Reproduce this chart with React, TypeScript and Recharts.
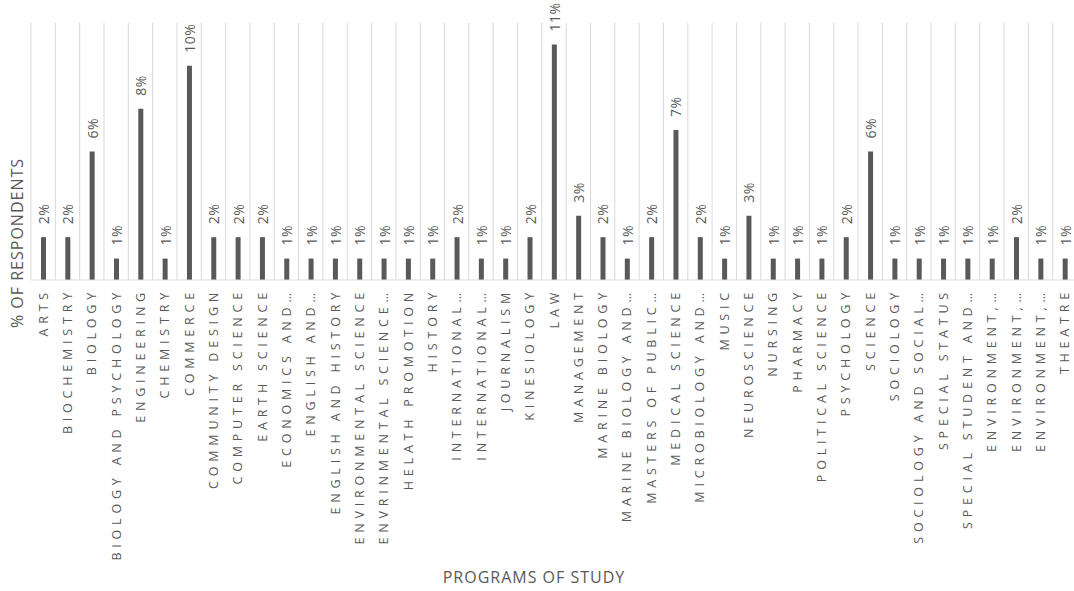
import { Bar, BarChart, CartesianGrid, Label, LabelList, XAxis, YAxis } from "recharts";

// programs of study, in the order they appear on the axis
const programs = [
  "ARTS",
  "BIOCHEMISTRY",
  "BIOLOGY",
  "BIOLOGY AND PSYCHOLOGY",
  "ENGINEERING",
  "CHEMISTRY",
  "COMMERCE",
  "COMMUNITY DESIGN",
  "COMPUTER SCIENCE",
  "EARTH SCIENCE",
  "ECONOMICS AND\u2026",
  "ENGLISH AND\u2026",
  "ENGLISH AND HISTORY",
  "ENVIRONMENTAL SCIENCE",
  "ENVRINMENTAL SCIENCE\u2026",
  "HELATH PROMOTION",
  "HISTORY",
  "INTERNATIONAL\u2026",
  "INTERNATIONAL\u2026",
  "JOURNALISM",
  "KINESIOLOGY",
  "LAW",
  "MANAGEMENT",
  "MARINE BIOLOGY",
  "MARINE BIOLOGY AND\u2026",
  "MASTERS OF PUBLIC\u2026",
  "MEDICAL SCIENCE",
  "MICROBIOLOGY AND\u2026",
  "MUSIC",
  "NEUROSCIENCE",
  "NURSING",
  "PHARMACY",
  "POLITICAL SCIENCE",
  "PSYCHOLOGY",
  "SCIENCE",
  "SOCIOLOGY",
  "SOCIOLOGY AND SOCIAL\u2026",
  "SPECIAL STATUS",
  "SPECIAL STUDENT AND\u2026",
  "ENVIRONMENT,\u2026",
  "ENVIRONMENT,\u2026",
  "ENVIRONMENT,\u2026",
  "THEATRE",
];

// % of respondents per program
const respondents = [
  2, 2, 6, 1, 8, 1, 10, 2, 2, 2, 1, 1, 1, 1, 1, 1, 1, 2, 1, 1, 2, 11, 3, 2, 1, 2, 7, 2, 1, 3, 1, 1, 1, 2,
  6, 1, 1, 1, 1, 1, 2, 1, 1,
];

const yDomain = [0, 12];

const data = programs.map((name, i) => ({ id: i, name, value: respondents[i] }));

const GRAY = "#595959";
const FONT = "'Open Sans', sans-serif";

const ProgramTick = ({ x, y, payload }: any) => {
  const ty = y + 8;
  return (
    <text
      x={x}
      y={ty}
      transform={`rotate(-90 ${x} ${ty})`}
      textAnchor="end"
      dominantBaseline="central"
      fontFamily={FONT}
      fontSize={12.5}
      letterSpacing={4.8}
      fill={GRAY}
    >
      {data[payload.value]?.name}
    </text>
  );
};

const ValueLabel = ({ x, y, width, value }: any) => {
  const cx = x + width / 2;
  const ty = y - 13;
  return (
    <text
      x={cx}
      y={ty}
      transform={`rotate(-90 ${cx} ${ty})`}
      textAnchor="start"
      dominantBaseline="central"
      fontFamily={FONT}
      fontSize={14}
      letterSpacing={0.5}
      fill={GRAY}
    >
      {`${value}%`}
    </text>
  );
};

// vertical grid lines sit on the category boundaries, not the centres
const bandEdges = ({ offset }: any) => {
  const step = offset.width / data.length;
  return data.map((_, i) => offset.left + i * step);
};

export default function App() {
  return (
    <div
      style={{
        position: "absolute",
        left: 0,
        top: 0,
        width: 1074,
        height: 591,
        overflow: "hidden",
        background: "#fff",
      }}
    >
      <BarChart
        width={1100}
        height={591}
        data={data}
        margin={{ top: 23, right: 23, left: 31, bottom: 0 }}
      >
        <CartesianGrid
          horizontal={false}
          stroke="#d9d9d9"
          verticalCoordinatesGenerator={bandEdges}
        />
        <XAxis
          dataKey="id"
          type="category"
          interval={0}
          height={311}
          tickLine={false}
          tickSize={0}
          tickMargin={0}
          axisLine={{ stroke: "#d9d9d9" }}
          tick={<ProgramTick />}
        >
          <Label
            value="PROGRAMS OF STUDY"
            position="insideBottom"
            offset={8}
            dx={-20}
            style={{ fontFamily: FONT, fontSize: 16, letterSpacing: 1, fill: GRAY }}
          />
        </XAxis>
        <YAxis hide domain={yDomain} />
        <Bar dataKey="value" fill={GRAY} barSize={5} isAnimationActive={false}>
          <LabelList dataKey="value" content={<ValueLabel />} />
        </Bar>
      </BarChart>
      <div
        style={{
          position: "absolute",
          left: 17,
          top: 243,
          transform: "translate(-50%, -50%) rotate(-90deg)",
          whiteSpace: "nowrap",
          fontFamily: FONT,
          fontSize: 16,
          letterSpacing: 1,
          color: GRAY,
        }}
      >
        % OF RESPONDENTS
      </div>
    </div>
  );
}
